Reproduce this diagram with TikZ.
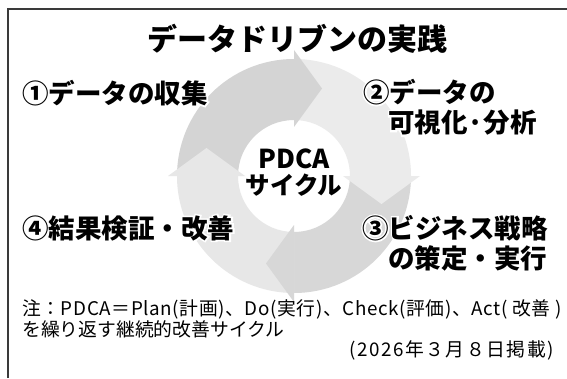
\documentclass[tikz,border=0pt]{standalone}
\usepackage{fontspec}
\setmainfont{Noto Sans CJK JP}
\usetikzlibrary{calc}
\definecolor{ringA}{HTML}{D4D4D4}
\definecolor{ringB}{HTML}{EBEBEB}
\definecolor{ringC}{HTML}{D7D7D7}
\definecolor{ringD}{HTML}{E7E7E7}
\definecolor{framegray}{HTML}{3A3A3A}
\tikzset{
  titletext/.style={font=\fontsize{30}{34}\selectfont\bfseries, inner sep=0pt},
  lbl/.style={font=\fontsize{26.5}{30}\selectfont\bfseries, inner sep=0pt, anchor=west},
  centertext/.style={font=\fontsize{26}{30}\selectfont\bfseries, inner sep=0pt},
  notetext/.style={font=\fontsize{18.8}{22}\selectfont, inner sep=0pt, anchor=west},
  datetext/.style={font=\fontsize{18.8}{22}\selectfont\addfontfeatures{LetterSpace=8}, inner sep=0pt, anchor=east},
  frameline/.style={draw=framegray, line width=1.6pt},
}
\newcommand\halonode[4]{%
  \node[#3,text=white] at (#2) {\addfontfeatures{FakeBold=12}#4};
  \node[#3] (#1) at (#2) {#4};
}
\begin{document}
\begin{tikzpicture}[x=1pt,y=1pt]
\useasboundingbox (0,0) rectangle (567,378);
\fill[white] (0,0) rectangle (567,378);
% frame
\coordinate (fb) at (8,0);
\coordinate (fc) at (8,369);
\coordinate (fr) at (567,369);
\draw[frameline] (fb) -- (fc) -- (fr);
% ring
\coordinate (C) at (294,202);
\def\ro{117pt}\def\ri{56pt}
\foreach \s/\e/\col in {180/90/ringA, 90/0/ringB, 0/-90/ringC, -90/-180/ringD}{
  \fill[\col] ($(C)+(\s:117)$) arc[start angle=\s, end angle=\e, radius=\ro]
     -- ($(C)+(\e:56)$) arc[start angle=\e, end angle=\s, radius=\ri] -- cycle;
}
\foreach \t/\col in {90/ringA, 0/ringB, -90/ringC, -180/ringD}{
  \fill[\col] ($(C)+(\t:49)$) -- ($(C)+(\t:126)$) -- ($(C)+(\t:87.5)+(\t-90:28)$) -- cycle;
}
% title
\node[titletext] (title) at (297,339) {データドリブンの実践};
% labels
\halonode{l1}{22,285}{lbl}{①データの収集}
\halonode{l2a}{363,286}{lbl}{②データの}
\halonode{l2b}{388,255}{lbl}{可視化·分析}
\halonode{l3a}{362,150}{lbl}{③ビジネス戦略}
\halonode{l3b}{388,120}{lbl}{の策定・実行}
\halonode{l4}{22,150}{lbl}{④結果検証・改善}
% center
\node[centertext] (pdca) at (294,219) {PDCA};
\node[centertext, font=\fontsize{24.5}{28}\selectfont\bfseries] (cyc) at (294,193) {サイクル};
% note
\node[notetext] (n1) at (22,69) {\addfontfeatures{LetterSpace=3.2}注：PDCA＝Plan(計画)、Do(実行)、Check(評価)、Act( 改善 )};
\node[notetext] (n2) at (22,49) {を繰り返す継続的改善サイクル};
\node[datetext] (date) at (554,28) {(2026年３月８日掲載)};
\end{tikzpicture}
\end{document}
